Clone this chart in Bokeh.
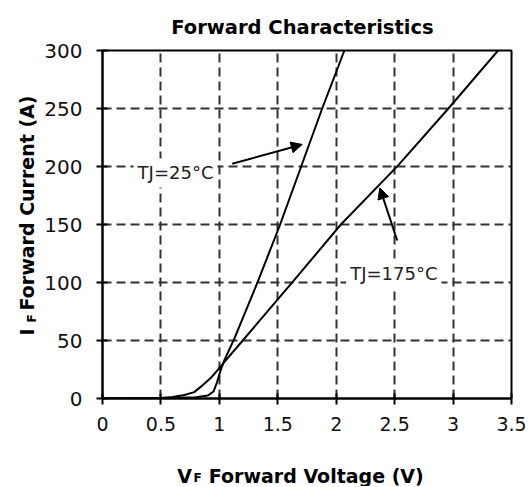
from bokeh.plotting import figure
from bokeh.models import Range1d, Label, Arrow, NormalHead, FixedTicker
from bokeh.core.properties import value
from bokeh.embed import file_html
from bokeh.resources import INLINE
import math

# ---- data ----
v_25 = [0.0, 0.5, 0.8, 0.9, 0.95, 0.98, 1.01, 1.043, 1.13, 1.33, 1.52, 1.70, 1.88, 2.07]
i_25 = [0.0, 0.3, 1.0, 2.5, 6.0, 14.0, 24.0, 33.0, 52.0, 101.0, 150.0, 200.0, 250.0, 300.0]

v_175 = [0.0, 0.5, 0.6, 0.7, 0.785, 0.84, 0.93, 1.057, 1.2, 1.64, 2.04, 2.53, 2.96, 3.385]
i_175 = [0.0, 0.5, 1.2, 3.0, 5.5, 10.0, 18.0, 33.0, 50.0, 102.0, 150.0, 201.0, 250.0, 300.0]

x_ticks = [0, 0.5, 1, 1.5, 2, 2.5, 3, 3.5]
x_tick_labels = ["0", "0.5", "1", "1.5", "2", "2.5", "3", "3.5"]
y_ticks = [0, 50, 100, 150, 200, 250, 300]
y_tick_labels = ["0", "50", "100", "150", "200", "250", "300"]

title_text = "Forward Characteristics"
label_25 = "TJ=25°C"
label_175 = "TJ=175°C"

FONT = "DejaVu Sans"

p = figure(width=530, height=486,
           x_range=Range1d(0, 3.5), y_range=Range1d(0, 300),
           output_backend="svg", toolbar_location=None,
           min_border_left=102, min_border_right=19,
           min_border_top=50, min_border_bottom=88)

p.background_fill_color = "white"
p.border_fill_color = "white"
p.outline_line_color = "black"
p.outline_line_width = 2

# axes
p.xaxis.ticker = FixedTicker(ticks=x_ticks)
p.yaxis.ticker = FixedTicker(ticks=y_ticks)
p.xaxis.major_label_overrides = {t: s for t, s in zip(x_ticks, x_tick_labels)}
p.yaxis.major_label_overrides = {t: s for t, s in zip(y_ticks, y_tick_labels)}
for ax in (p.xaxis, p.yaxis):
    ax.axis_line_color = "black"
    ax.axis_line_width = 2
    ax.major_tick_line_color = "black"
    ax.major_tick_line_width = 2
    ax.major_tick_in = 5
    ax.major_tick_out = 6
    ax.minor_tick_line_color = None
    ax.major_label_text_font = FONT
    ax.major_label_text_color = "#111111"
p.xaxis.major_label_text_font_size = "19px"
p.yaxis.major_label_text_font_size = "20px"
p.xaxis.major_label_standoff = 12
p.yaxis.major_label_standoff = 14

# grid
for g in (p.xgrid, p.ygrid):
    g.grid_line_color = "#333333"
    g.grid_line_width = 2
    g.grid_line_dash = "9 5"
p.xgrid.ticker = FixedTicker(ticks=x_ticks)
p.ygrid.ticker = FixedTicker(ticks=y_ticks)

# curves
p.line(v_25, i_25, line_color="black", line_width=2)
p.line(v_175, i_175, line_color="black", line_width=2)

# annotations inside the frame
p.add_layout(Label(x=0.625, y=194.4, text=label_25, text_align="center",
                   text_baseline="middle", text_font=FONT, text_font_size="18px",
                   text_color="#222222", background_fill_color="white", padding=4))
p.add_layout(Label(x=2.493, y=107.5, text=label_175, text_align="center",
                   text_baseline="middle", text_font=FONT, text_font_size="18px",
                   text_color="#222222", background_fill_color="white", padding=4))
p.add_layout(Arrow(x_start=1.110, y_start=202.3, x_end=1.709, y_end=219.0,
                   line_color="black", line_width=2,
                   end=NormalHead(size=11, fill_color="black", line_color="black")))
p.add_layout(Arrow(x_start=2.522, y_start=136.2, x_end=2.373, y_end=181.6,
                   line_color="black", line_width=2,
                   end=NormalHead(size=11, fill_color="black", line_color="black")))


def outer_text(x, y, text, size, angle=0.0, align="left"):
    # text glyph at overlay level so that it is drawn outside the frame
    p.text(x=[x], y=[y], text=[text], angle=angle, level="overlay",
           text_align=align, text_baseline="alphabetic",
           text_font=value(FONT), text_font_size=size,
           text_font_style="bold", text_color="black")


# title
outer_text(1.711, 319.8, title_text, "19.5px", align="center")

# x axis title:  V_F Forward Voltage (V)
outer_text(0.639, -66.4, "V", "19px")
outer_text(0.779, -68.5, "F", "12px")
outer_text(0.910, -66.4, "Forward Voltage (V)", "19px")

# y axis title:  I_F Forward Current (A)
outer_text(-0.644, 54.3, "I", "19px", angle=math.pi / 2)
outer_text(-0.602, 65.5, "F", "12px", angle=math.pi / 2)
outer_text(-0.644, 75.9, "Forward Current (A)", "19px", angle=math.pi / 2)

open("out.html", "w").write(file_html(p, INLINE))
